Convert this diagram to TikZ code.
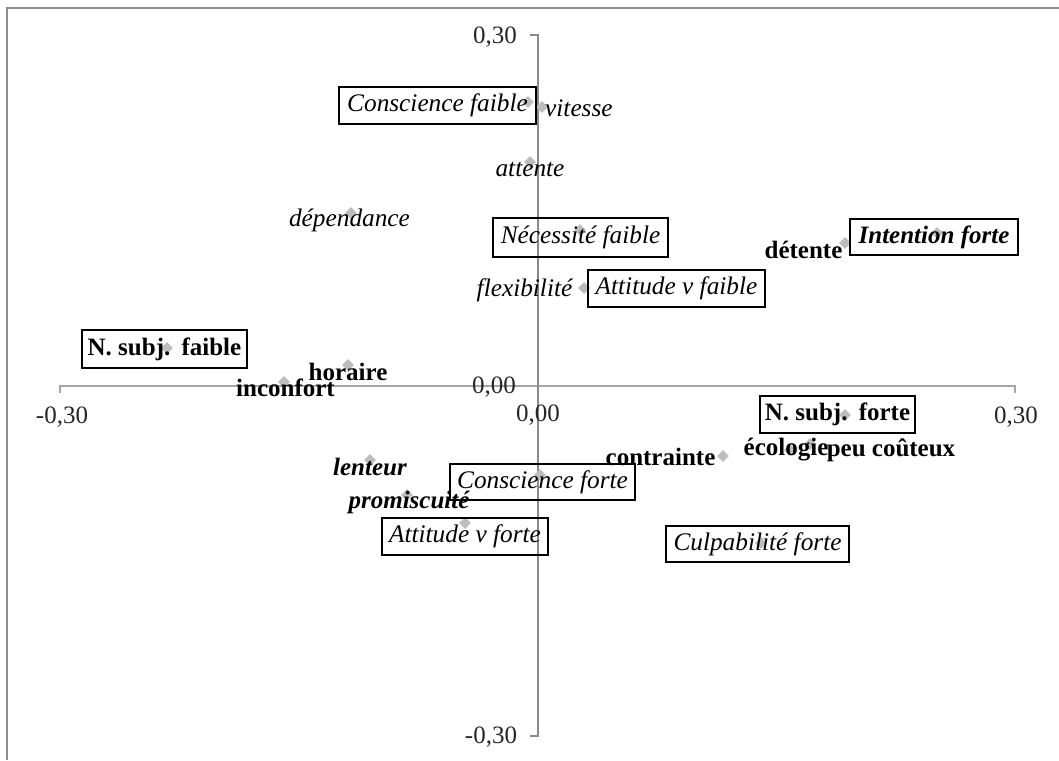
\documentclass[tikz,border=0pt]{standalone}
\usepackage{fontspec}
\setmainfont{Liberation Serif}
\usetikzlibrary{shapes.geometric}
\definecolor{mkgray}{HTML}{BDBDBD}
\definecolor{framegray}{HTML}{8E8E8E}
\definecolor{hgray}{HTML}{A6A6A6}
\definecolor{vgray}{HTML}{8A8A8A}
\definecolor{axtext}{HTML}{262626}
\frenchspacing
\begin{document}
\begin{tikzpicture}[x=1pt,y=-1pt,
  mk/.style={diamond,fill=mkgray,draw=none,minimum width=12pt,minimum height=12pt,inner sep=0pt},
  lit/.style={inner sep=0pt,font=\fontsize{25.3}{29}\selectfont\itshape},
  lbf/.style={inner sep=0pt,font=\fontsize{25}{29}\selectfont\bfseries},
  lbi/.style={inner sep=0pt,font=\fontsize{25}{29}\selectfont\bfseries\itshape},
  boxed/.style={draw=black,line width=1.8pt,inner sep=0pt},
  ax/.style={inner sep=0pt,text=axtext,font=\fontsize{25}{28}\selectfont}]
\useasboundingbox (0,0) rectangle (1059,760);
% frame
\draw[framegray,line width=2.5pt] (7,760) -- (7,8) -- (1059,8);
% axes
\draw[hgray,line width=1.3pt] (60,393) -- (60,386) -- (1015,386) -- (1015,393);
\draw[vgray,line width=1.1pt] (530,35) -- (538,35) -- (538,736) -- (530,736);
% axis labels
\node[ax] (ytop) at (495,37) {0,30};
\node[ax] (ybot) at (491,737) {-0,30};
\node[ax] (xleft) at (62,417) {-0,30};
\node[ax] (xright) at (1016,417) {0,30};
\node[ax] (yzero) at (494,387) {0,00};
\node[ax] (xzero) at (538,415) {0,00};
% markers
\node[mk] (m1) at (528,102) {};
\node[mk] (m2) at (542,107) {};
\node[mk] (m3) at (530,162) {};
\node[mk] (m4) at (351,213) {};
\node[mk] (m5) at (580,230) {};
\node[mk] (m6) at (584,288) {};
\node[mk] (m8) at (845,243) {};
\node[mk] (m9) at (937,233) {};
\node[mk] (m10) at (167,348) {};
\node[mk] (m11) at (348,365) {};
\node[mk] (m12) at (284,382) {};
\node[mk] (m13) at (370,460) {};
\node[mk] (m14) at (407,495) {};
\node[mk] (m15) at (465,523) {};
\node[mk] (m16) at (540,475) {};
\node[mk] (m17) at (723,456) {};
\node[mk] (m18) at (790,450) {};
\node[mk] (m19) at (810,444) {};
\node[mk] (m20) at (845,415) {};
\node[mk] (m21) at (761,543) {};
% plain labels
\node[lit,anchor=west] (vitesse) at (545,108) {vitesse};
\node[lit] (attente) at (530,170) {attente};
\node[lit] (dependance) at (349.5,220) {dépendance};
\node[lit] (flexibilite) at (524.5,290) {flexibilité};
\node[lbf] (detente) at (803.5,250) {détente};
\node[lbf] (horaire) at (348,372) {horaire};
\node[lbf] (inconfort) at (285.5,388) {inconfort};
\node[lbi] (lenteur) at (370,467) {lenteur};
\node[lbi] (promiscuite) at (409,502) {promiscuité};
\node[lbf] (contrainte) at (660.5,457) {contrainte};
\node[lbf] (ecologie) at (786,450) {écologie};
\node[lbf] (peucouteux) at (891,450) {peu coûteux};
% boxed labels
\node[lit,boxed,minimum width=197pt,minimum height=37pt] (consfaible) at (437.5,105.5) {Conscience faible};
\node[lit,boxed,minimum width=175pt,minimum height=39pt] (necfaible) at (580.5,237.5) {Nécessité faible};
\node[lit,boxed,minimum width=177pt,minimum height=37pt] (attfaible) at (676.5,288.5) {Attitude v faible};
\node[lbi,boxed,minimum width=168pt,minimum height=36pt] (intforte) at (934,237) {Intention forte};
\node[lbf,boxed,minimum width=165pt,minimum height=38pt] (nsubjfaible) at (164.5,349) {N. subj.\hspace{0.45em}faible};
\node[lbf,boxed,minimum width=155pt,minimum height=37pt] (nsubjforte) at (837.5,414.5) {N. subj.\hspace{0.45em}forte};
\node[lit,boxed,minimum width=185pt,minimum height=36pt] (consforte) at (542.5,482) {Conscience forte};
\node[lit,boxed,minimum width=166pt,minimum height=37pt] (attforte) at (465,536.5) {Attitude v forte};
\node[lit,boxed,minimum width=183pt,minimum height=36pt] (culpforte) at (757.5,544) {Culpabilité forte};
\end{tikzpicture}
\end{document}
